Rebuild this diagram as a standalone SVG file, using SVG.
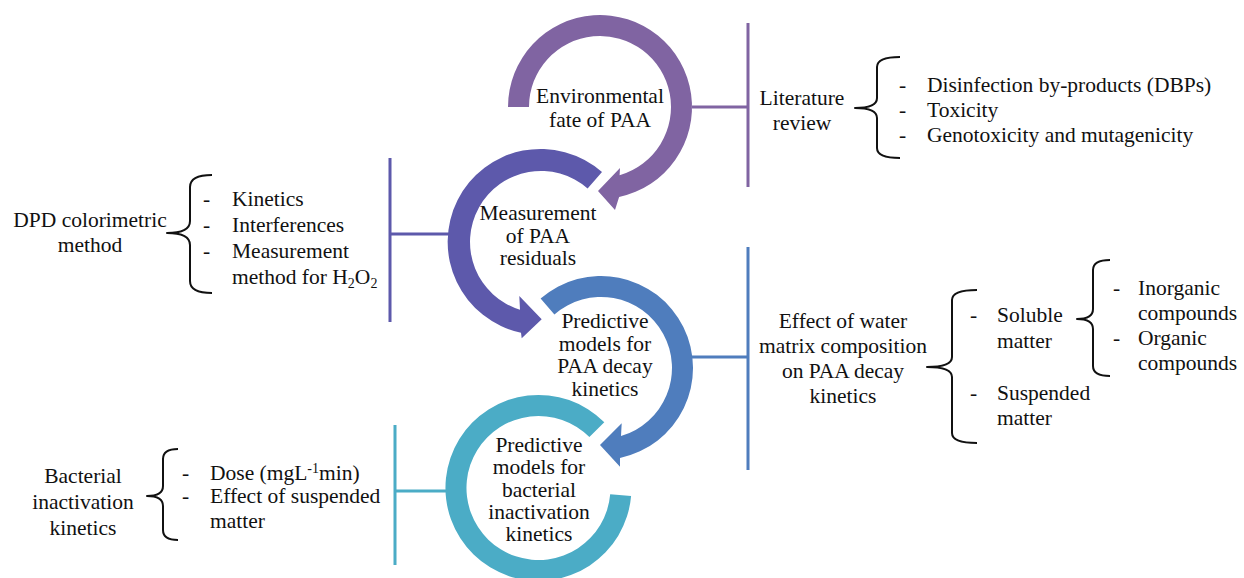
<svg xmlns="http://www.w3.org/2000/svg" width="1244" height="578" viewBox="0 0 1244 578">
<style>
text{font-family:'Liberation Serif','Times New Roman','DejaVu Serif',serif;font-size:21.5px;fill:#111}
.c{text-anchor:middle}
.br{fill:none;stroke:#111;stroke-width:2;stroke-linejoin:round}
.ln{fill:none;stroke-width:3}
.sub{font-size:14px}
</style>
<rect width="1244" height="578" fill="#fff"/>
<g id="connectors">
  <path class="ln" stroke="#8064A2" d="M692,107 H748 M748,23 V187"/>
  <path class="ln" stroke="#5D59AB" d="M390,234 H449 M390,158 V322"/>
  <path class="ln" stroke="#4F7DBD" d="M692,357 H748 M748,247 V470"/>
  <path class="ln" stroke="#4BACC6" d="M395,491 H447 M395,425 V565"/>
  <path class="br" d="M212,175 Q190,175 190,187 L190,221 Q190,233 167,233 Q190,233 190,245 L190,281 Q190,293 212,293"/>
  <path class="br" d="M178,449 Q163,449 163,459 L163,486 Q163,496 147,496 Q163,496 163,506 L163,530 Q163,540 178,540"/>
  <path class="br" d="M900,57 Q877,57 877,67 L877,98 Q877,108 855,108 Q877,108 877,118 L877,148 Q877,158 900,158"/>
  <path class="br" d="M977,290 Q952,290 952,300 L952,357 Q952,367 927,367 Q952,367 952,377 L952,433 Q952,443 977,443"/>
  <path class="br" d="M1110,260 Q1093,260 1093,270 L1093,309 Q1093,319 1077,319 Q1093,319 1093,329 L1093,366 Q1093,376 1110,376"/>
</g>
<g id="node-environmental-fate">
  <path fill="#8064A2" d="M508,107 A92,92 0 1 1 619.1,197 L615,210 L598,191 L620,168 L619.6,175.2 A71,71 0 1 0 529,107 Z"/>
  <text class="c" x="600" y="103">Environmental</text>
  <text class="c" x="600" y="127">fate of PAA</text>
</g>
<g id="node-measurement">
  <path fill="#5D59AB" d="M602,172 A93,93 0 1 0 521,332.8 L521.7,338.3 L541.7,319.3 L519.3,296 L520,309.8 A71,71 0 1 1 587.6,188.4 Z"/>
  <text class="c" x="538" y="220">Measurement</text>
  <text class="c" x="538" y="243">of PAA</text>
  <text class="c" x="538" y="265">residuals</text>
</g>
<g id="node-paa-decay">
  <path fill="#4F7DBD" d="M540.6,298.6 A92,92 0 1 1 620,458 L620,466.7 L600,445 L621.7,423.3 L621,436.1 A71,71 0 1 0 554.4,314.4 Z"/>
  <text class="c" x="605" y="328">Predictive</text>
  <text class="c" x="605" y="351">models for</text>
  <text class="c" x="605" y="373">PAA decay</text>
  <text class="c" x="605" y="396">kinetics</text>
</g>
<g id="node-bacterial-models">
  <path fill="#4BACC6" d="M631.1,496.1 A93,93 0 1 1 604.3,422.2 L589.4,437.1 A72,72 0 1 0 610.2,494.3 Z"/>
  <text class="c" x="539" y="452">Predictive</text>
  <text class="c" x="539" y="474">models for</text>
  <text class="c" x="539" y="497">bacterial</text>
  <text class="c" x="539" y="519">inactivation</text>
  <text class="c" x="539" y="541">kinetics</text>
</g>
<g id="node-dpd">
  <text class="c" x="90" y="227">DPD colorimetric</text>
  <text class="c" x="90" y="252">method</text>
  <text x="203" y="206">-</text><text x="232" y="206">Kinetics</text>
  <text x="203" y="232">-</text><text x="232" y="232">Interferences</text>
  <text x="203" y="258">-</text><text x="232" y="258">Measurement</text>
  <text x="232" y="284">method for H<tspan class="sub" dy="4">2</tspan><tspan dy="-4">O</tspan><tspan class="sub" dy="4">2</tspan></text>
</g>
<g id="node-bacterial">
  <text class="c" x="83" y="483">Bacterial</text>
  <text class="c" x="83" y="509">inactivation</text>
  <text class="c" x="83" y="535">kinetics</text>
  <text x="182" y="480">-</text><text x="210" y="480">Dose (mgL<tspan class="sub" dy="-7">-1</tspan><tspan dy="7">min)</tspan></text>
  <text x="182" y="503">-</text><text x="210" y="503">Effect of suspended</text>
  <text x="210" y="528">matter</text>
</g>
<g id="node-literature">
  <text class="c" x="802" y="105">Literature</text>
  <text class="c" x="802" y="130">review</text>
  <text x="899" y="92">-</text><text x="927" y="92">Disinfection by-products (DBPs)</text>
  <text x="899" y="117">-</text><text x="927" y="117">Toxicity</text>
  <text x="899" y="142">-</text><text x="927" y="142">Genotoxicity and mutagenicity</text>
</g>
<g id="node-water-matrix">
  <text class="c" x="843" y="328">Effect of water</text>
  <text class="c" x="843" y="353">matrix composition</text>
  <text class="c" x="843" y="378">on PAA decay</text>
  <text class="c" x="843" y="403">kinetics</text>
  <text x="970" y="322">-</text><text x="997" y="322">Soluble</text>
  <text x="997" y="348">matter</text>
  <text x="970" y="400">-</text><text x="997" y="400">Suspended</text>
  <text x="997" y="425">matter</text>
</g>
<g id="node-soluble">
  <text x="1113" y="295">-</text><text x="1138" y="295">Inorganic</text>
  <text x="1138" y="320">compounds</text>
  <text x="1113" y="345">-</text><text x="1138" y="345">Organic</text>
  <text x="1138" y="370">compounds</text>
</g>
</svg>
